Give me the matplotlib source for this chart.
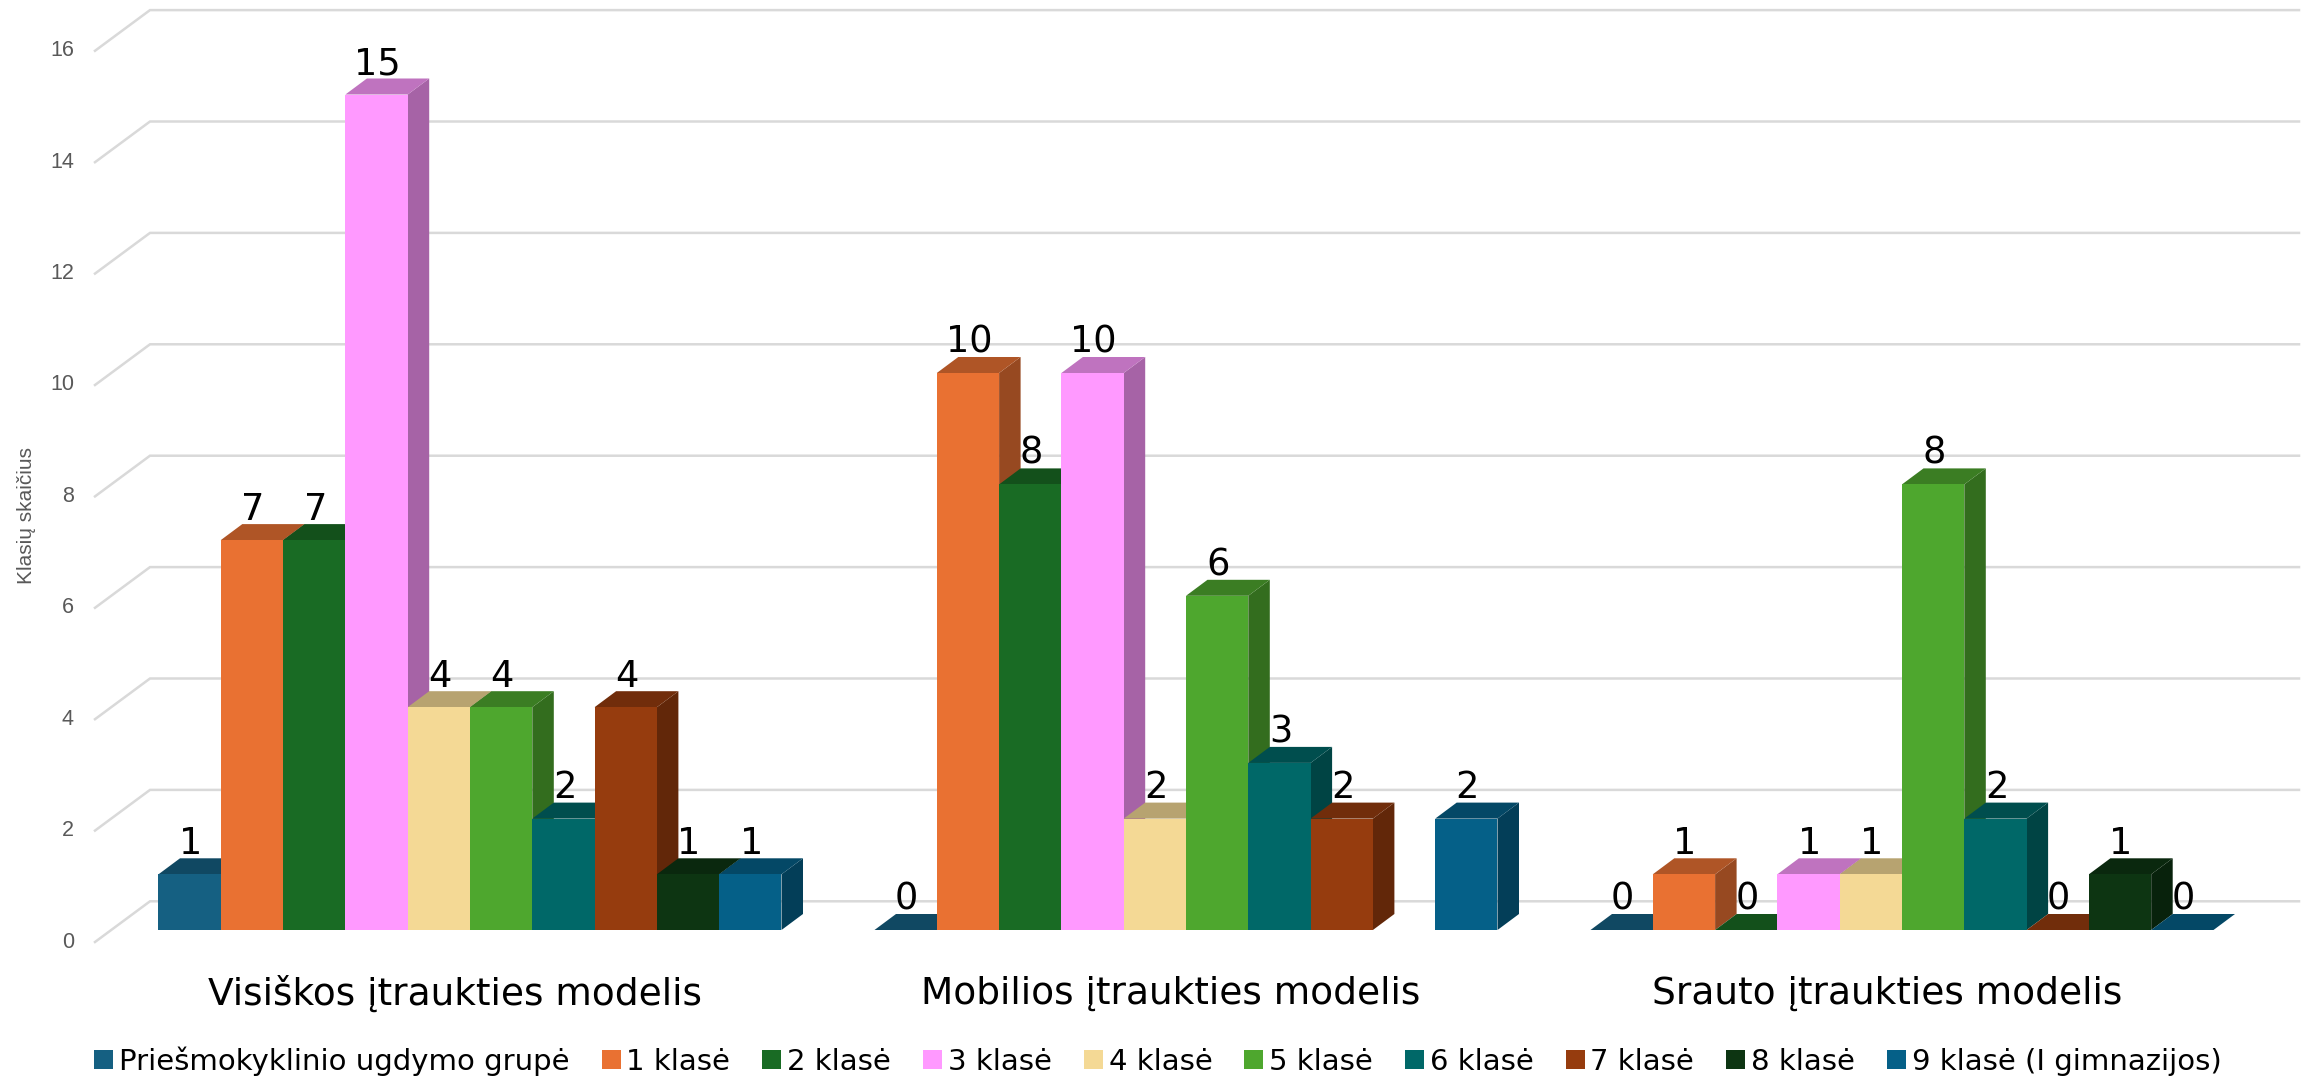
# plot.py
# Grouped bars with a fake 3D look, drawn on a plain 2D axes

import matplotlib
matplotlib.use("Agg")
import matplotlib.pyplot as plt
import numpy as np
from matplotlib.colors import to_rgb
from matplotlib.patches import Patch, Polygon

models = ["Visiškos įtraukties modelis", "Mobilios įtraukties modelis", "Srauto įtraukties modelis"]
grades = ["Priešmokyklinio ugdymo grupė", "1 klasė", "2 klasė", "3 klasė", "4 klasė",
          "5 klasė", "6 klasė", "7 klasė", "8 klasė", "9 klasė (I gimnazijos)"]

visiskos = [1, 7, 7, 15, 4, 4, 2, 4, 1, 1]
mobilios = [0, 10, 8, 10, 2, 6, 3, 2, np.nan, 2]
srauto = [0, 1, 0, 1, 1, 8, 2, 0, 1, 0]

y_ticks = [0, 2, 4, 6, 8, 10, 12, 14, 16]

colors = ["#156082", "#e97132", "#196b24", "#ff99ff", "#f4d995",
          "#4ea72e", "#006868", "#963c0e", "#0d3512", "#056088"]

W, H = 2308, 1077
PX_Y = 55.7   # pixels per bar unit
PX_X = 716.0  # pixels per group
BASE = 930.0  # pixel row of value 0 on the bar front
CENTER = 470.0
BAR_W = 62.3 / PX_X
DX, DY = 21.5 / PX_X, 16 / PX_Y  # depth of a bar


def shade(color, k):
    return tuple(c * k for c in to_rgb(color))


fig = plt.figure(figsize=(W / 100, H / 100), dpi=100)
ax = fig.add_axes([0, 0, 1, 1])
ax.set_xlim((0 - CENTER) / PX_X, (W - CENTER) / PX_X)
ax.set_ylim((BASE - H) / PX_Y, BASE / PX_Y)
ax.axis("off")

# walls: front edge, back edge, then along the back
x_front = (95 - CENTER) / PX_X
x_back = (150 - CENTER) / PX_X
x_right = (2299 - CENTER) / PX_X
front_off = -12 / PX_Y
back_off = 28.7 / PX_Y
for v in y_ticks:
    ax.plot([x_front, x_back, x_right], [v + front_off, v + back_off, v + back_off],
            color="#d9d9d9", lw=1.8, zorder=1, solid_joinstyle="miter")
    ax.text((74 - CENTER) / PX_X, v + front_off, str(v), ha="right", va="center",
            fontsize=15.5, color="#595959", family="Liberation Sans")

ax.text((27 - CENTER) / PX_X, (BASE - 515) / PX_Y, "Klasių skaičius", rotation=90, ha="center",
        va="center", fontsize=15, color="#595959", family="Liberation Sans")

# bars, left to right so the next one hides the side of the previous one
z = 3
for g, series in enumerate([visiskos, mobilios, srauto]):
    for j, val in enumerate(series):
        if np.isnan(val):
            continue
        left = g + (j - 5) * BAR_W
        right = left + BAR_W
        col = colors[j]
        ax.add_patch(Polygon([(right, 0), (right + DX, DY), (right + DX, val + DY), (right, val)],
                             facecolor=shade(col, 0.65), edgecolor="none", zorder=z))
        ax.add_patch(Polygon([(left, val), (left + DX, val + DY), (right + DX, val + DY), (right, val)],
                             facecolor=shade(col, 0.75), edgecolor="none", zorder=z))
        ax.bar(left, val, width=BAR_W, align="edge", color=col, zorder=z + 0.5)
        ax.text(left + BAR_W / 2 + 1 / PX_X, val + 20.5 / PX_Y, str(int(val)), ha="center", va="baseline",
                fontsize=26.5, color="black", zorder=50)
        z += 1
    ax.text(g - 15 / PX_X, (BASE - 994) / PX_Y, models[g], ha="center", va="center", fontsize=27, color="black")

handles = [Patch(facecolor=c, label=n) for c, n in zip(colors, grades)]
fig.legend(handles=handles, ncol=10, loc="center", bbox_to_anchor=(0.5017, 1 - 1061 / H), frameon=False,
           fontsize=21, handlelength=0.65, handleheight=0.65, handletextpad=0.2, columnspacing=1.1)

fig.savefig("out.png", dpi=100)
plt.close(fig)
